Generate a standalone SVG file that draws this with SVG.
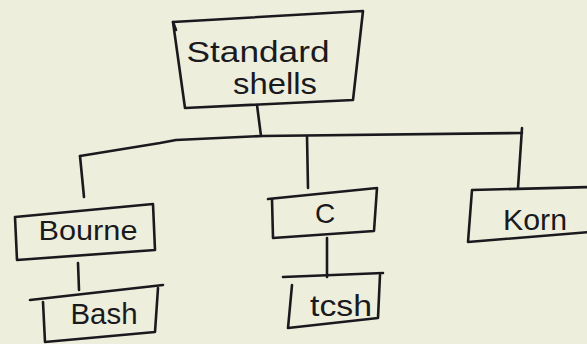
<svg xmlns="http://www.w3.org/2000/svg" width="587" height="344" viewBox="0 0 587 344">
<style>
.ln{fill:none;stroke:#1a1a1e;stroke-width:2.6;stroke-linecap:round;stroke-linejoin:round}
.tx{font-family:"Liberation Sans","DejaVu Sans",sans-serif;fill:#1a1a1e;text-anchor:middle}
</style>
<rect width="587" height="344" fill="#edefdc"/>
<g id="connectors">
<path class="ln" d="M257,105 L261,136"/>
<path class="ln" d="M80,156 L160,143 L176,140 L262,136 L522,133"/>
<path class="ln" d="M80,156 L84,197"/>
<path class="ln" d="M307,136 L308,188"/>
<path class="ln" d="M522,128 L518,188"/>
<path class="ln" d="M78,263 L79,290"/>
<path class="ln" d="M327,238 L327,277"/>
</g>
<g id="node-standard-shells">
<path class="ln" d="M173,22 L363,11 L353,100 L185,108 Z"/>
<path class="ln" d="M173,22 L176,30"/>
<text class="tx" x="258" y="62" font-size="29" textLength="143" lengthAdjust="spacingAndGlyphs">Standard</text>
<text class="tx" x="275" y="94" font-size="30" textLength="84" lengthAdjust="spacingAndGlyphs">shells</text>
</g>
<g id="node-bourne">
<path class="ln" d="M15,217 L153,204 L155,250 L17,260 Z"/>
<text class="tx" x="88" y="240" font-size="27" textLength="99" lengthAdjust="spacingAndGlyphs">Bourne</text>
</g>
<g id="node-c">
<path class="ln" d="M268,199 L377,188 L374,231 L273,238 L272,199"/>
<text class="tx" x="325" y="223" font-size="28">C</text>
</g>
<g id="node-korn">
<path class="ln" d="M590,187 L472,190 L468,242 L590,232"/>
<text class="tx" x="535" y="230" font-size="29" textLength="64" lengthAdjust="spacingAndGlyphs">Korn</text>
</g>
<g id="node-bash">
<path class="ln" d="M30,300 L163,285"/>
<path class="ln" d="M43,302 L45,342 L155,332 L158,288"/>
<text class="tx" x="104" y="324" font-size="29" textLength="67" lengthAdjust="spacingAndGlyphs">Bash</text>
</g>
<g id="node-tcsh">
<path class="ln" d="M283,277 L383,273"/>
<path class="ln" d="M292,285 L288,328 L378,318 L380,275"/>
<text class="tx" x="341" y="316" font-size="30" textLength="62" lengthAdjust="spacingAndGlyphs">tcsh</text>
</g>
</svg>
